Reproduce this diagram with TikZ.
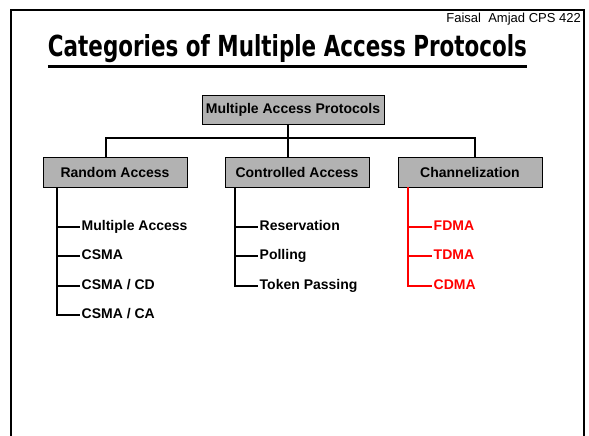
\documentclass[tikz,border=0pt]{standalone}
\usepackage{graphicx}
\usepackage{fontspec}
\setmainfont{Liberation Sans}
\newfontfamily\comicfont{DejaVu Sans}
\usepackage{tikz}
\usetikzlibrary{positioning}
\definecolor{boxgray}{RGB}{178,178,178}
\definecolor{leafred}{RGB}{255,0,0}

\begin{document}
\begin{tikzpicture}[x=1pt, y=-1pt,
    box/.style={draw, rectangle, fill=boxgray, line width=1pt, outer sep=0pt, text centered, minimum height=30pt, minimum width=144pt, inner xsep=2pt, font=\fontsize{14}{16}\selectfont\bfseries},
    leaf/.style={anchor=west, inner xsep=1.5pt, inner ysep=0pt, text height=10pt, text depth=3pt, font=\fontsize{14}{16}\selectfont\bfseries},
    branch/.style={line width=2pt},
    frame/.style={line width=2pt}
]
\useasboundingbox (0,0) rectangle (589,436);
\draw[frame] (11,436) -- (11,10) -- (584,10) -- (584,436);

\node (author) [anchor=north east, inner sep=0pt, font=\fontsize{13}{15}\selectfont] at (581,13) {Faisal\ \ Amjad CPS 422};
\node (title) [anchor=base, inner sep=0pt] at (287.5,57) {\resizebox{479pt}{22pt}{\comicfont\bfseries Categories of Multiple Access Protocols}};
\draw[line width=2.2pt] ([yshift=-9.5pt]title.base west) -- ([yshift=-9.5pt]title.base east);

\node (map) [box, minimum width=182pt, minimum height=29pt] at (293,109.5) {Multiple Access Protocols};
\node (rand) [box] at (115,172) {Random Access};
\node (ctrl) [box] at (297,172) {Controlled Access};
\node (chan) [box] at (470,172) {Channelization};

\coordinate (bus) at (0,138);
\draw[branch] ([xshift=-5pt]map.south) -- ([xshift=-5pt]map.south |- bus);
\draw[branch] ([xshift=-9pt]rand.north) |- ([xshift=5pt]chan.north |- bus) -- ([xshift=5pt]chan.north);
\draw[branch] ([xshift=-9pt]ctrl.north) -- ([xshift=-9pt]ctrl.north |- bus);

\node (multi) [leaf] at (80,227) {Multiple Access};
\node (csma) [leaf, below=16pt of multi.south west, anchor=north west] {CSMA};
\node (csmacd) [leaf, below=16pt of csma.south west, anchor=north west] {CSMA / CD};
\node (csmaca) [leaf, below=16pt of csmacd.south west, anchor=north west] {CSMA / CA};

\node (resv) [leaf] at (258,227) {Reservation};
\node (poll) [leaf, below=16pt of resv.south west, anchor=north west] {Polling};
\node (token) [leaf, below=16pt of poll.south west, anchor=north west] {Token Passing};

\node (fdma) [leaf, text=leafred] at (432,227) {FDMA};
\node (tdma) [leaf, text=leafred, below=16pt of fdma.south west, anchor=north west] {TDMA};
\node (cdma) [leaf, text=leafred, below=16pt of tdma.south west, anchor=north west] {CDMA};

\foreach \leaf in {multi,csma,csmacd,csmaca}
    \draw[branch] ([xshift=14pt]rand.south west) |- (\leaf.west);
\foreach \leaf in {resv,poll,token}
    \draw[branch] ([xshift=10pt]ctrl.south west) |- (\leaf.west);
\foreach \leaf in {fdma,tdma,cdma}
    \draw[branch, leafred] ([xshift=10pt]chan.south west) |- (\leaf.west);
\end{tikzpicture}
\end{document}
